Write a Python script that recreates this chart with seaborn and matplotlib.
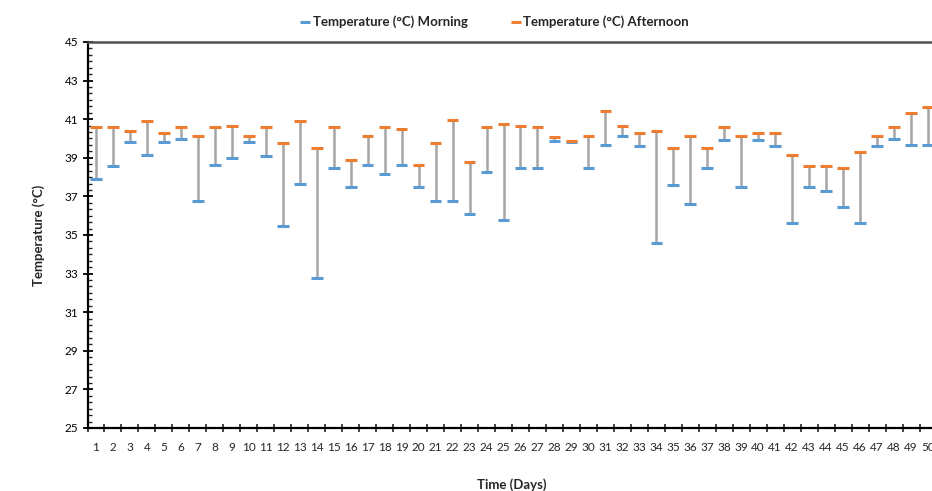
import numpy as np
import pandas as pd
import matplotlib
matplotlib.use("Agg")
import matplotlib.pyplot as plt
from matplotlib.lines import Line2D
from matplotlib.ticker import MultipleLocator, FixedLocator
import seaborn as sns

days = list(range(1, 51))
morning = [37.9, 38.59, 39.8, 39.16, 39.8, 39.97, 36.76, 38.64, 38.99, 39.8,
           39.11, 35.47, 37.66, 32.76, 38.47, 37.49, 38.64, 38.14, 38.64, 37.49,
           36.76, 36.76, 36.09, 38.26, 35.76, 38.47, 38.47, 39.89, 39.8, 38.47,
           39.66, 40.15, 39.61, 34.59, 37.61, 36.59, 38.47, 39.9, 37.49, 39.9,
           39.61, 35.61, 37.49, 37.28, 36.45, 35.61, 39.61, 39.97, 39.66, 39.66]
afternoon = [40.58, 40.58, 40.4, 40.92, 40.27, 40.58, 40.15, 40.58, 40.65, 40.15,
             40.58, 39.78, 40.92, 39.49, 40.58, 38.9, 40.15, 40.58, 40.48, 38.64,
             39.78, 40.97, 38.77, 40.58, 40.77, 40.65, 40.58, 40.06, 39.87, 40.15,
             41.42, 40.65, 40.27, 40.4, 39.49, 40.15, 39.49, 40.58, 40.15, 40.27,
             40.27, 39.15, 38.59, 38.59, 38.47, 39.28, 40.15, 40.58, 41.31, 41.62]
series_names = ["Temperature (°C) Morning", "Temperature (°C) Afternoon"]
colors = ["#5b9bd5", "#ed7d31"]

sns.set_theme(style="white")
plt.rcParams["font.family"] = ["Lato", "DejaVu Sans"]

df = pd.DataFrame({
    "Day": days * 2,
    "Temp": morning + afternoon,
    "Series": [series_names[0]] * len(days) + [series_names[1]] * len(days),
})

fig = plt.figure(figsize=(9.32, 4.91), dpi=100)
ax = fig.add_axes([87.5 / 932, 1 - 428 / 491, (936.5 - 87.5) / 932, (428 - 42) / 491])

ax.vlines(days, morning, afternoon, color="#a5a5a5", linewidth=1.8, zorder=1)
sns.scatterplot(data=df, x="Day", y="Temp", hue="Series", palette=colors,
                marker="_", s=70, linewidth=2.2, legend=False, ax=ax, zorder=3)

ax.set_xlim(0.5, 50.5)
ax.set_ylim(25, 45)
ax.yaxis.set_major_locator(MultipleLocator(2))
ax.yaxis.set_minor_locator(MultipleLocator(2 / 6))
ax.set_yticks(np.arange(25, 46, 2))
ax.set_xticks(days)
ax.set_xticklabels([str(d) for d in days])
ax.xaxis.set_minor_locator(FixedLocator(np.arange(0.5, 51, 1)))

ax.spines["right"].set_visible(False)
ax.spines["left"].set_color("black")
ax.spines["left"].set_linewidth(1.6)
ax.spines["bottom"].set_color("black")
ax.spines["bottom"].set_linewidth(1.6)
ax.spines["top"].set_color("#505050")
ax.spines["top"].set_linewidth(1.8)

ax.tick_params(axis="y", which="major", direction="inout", length=7, width=1.3,
               labelsize=8.5, colors="black", pad=3, left=True)
ax.tick_params(axis="y", which="minor", direction="in", length=3, width=1.0, left=True)
ax.tick_params(axis="x", which="major", direction="in", length=0, labelsize=8.5, pad=10)
ax.tick_params(axis="x", which="minor", direction="inout", length=6, width=1.2, bottom=True)

ax.set_xlabel("Time (Days)", fontsize=9.5, fontweight="bold", labelpad=18)
ax.set_ylabel("Temperature (°C)", fontsize=9.5, fontweight="bold", labelpad=14)

handles = [Line2D([], [], color=c, marker="_", linestyle="none", markersize=7,
                  markeredgewidth=2.2) for c in colors]
fig.legend(handles, series_names, loc="center", bbox_to_anchor=(0.53, 0.955),
           ncol=2, frameon=False, prop={"weight": "bold", "size": 9.5},
           handletextpad=0.1, columnspacing=3.2, handlelength=0.9)

fig.savefig("out.png", dpi=100)
